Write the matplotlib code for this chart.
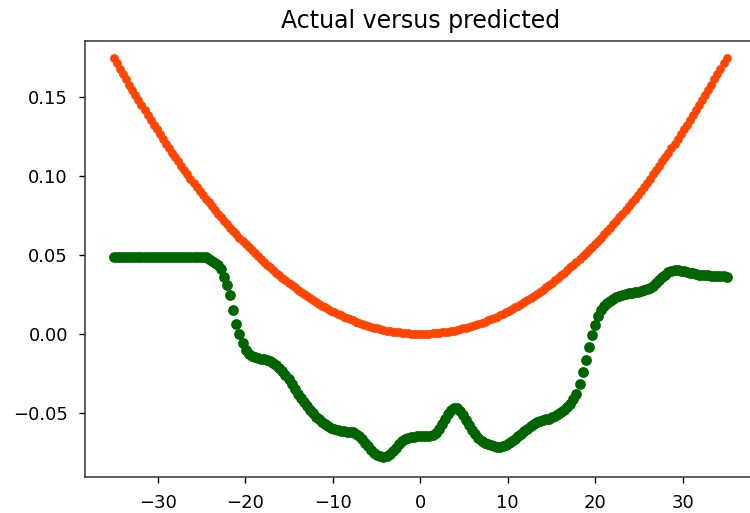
"""
Actual versus predicted scatter.
"""
#%% ------------------------------- ###
###        0. Data                  ###
### ------------------------------- ###

import matplotlib
matplotlib.use('Agg')
import matplotlib.pyplot as plt
import numpy as np

# sample grid, -35 .. 35 in steps of 0.35 (201 points)
x_vals = np.linspace(-35, 35, 201)

# orange-red series (10 values per row)
actual = [
    0.1752, 0.1717, 0.1682, 0.1648, 0.1614, 0.1581, 0.1548, 0.1515, 0.1483, 0.1451,
    0.1419, 0.1388, 0.1357, 0.1326, 0.1296, 0.1266, 0.1236, 0.1207, 0.1178, 0.1149,
    0.1121, 0.1093, 0.1066, 0.1039, 0.1012, 0.0985, 0.0959, 0.0934, 0.0908, 0.0883,
    0.0858, 0.0834, 0.0810, 0.0786, 0.0763, 0.0740, 0.0718, 0.0695, 0.0673, 0.0652,
    0.0631, 0.0610, 0.0589, 0.0569, 0.0549, 0.0530, 0.0511, 0.0492, 0.0474, 0.0456,
    0.0438, 0.0421, 0.0404, 0.0387, 0.0371, 0.0355, 0.0339, 0.0324, 0.0309, 0.0294,
    0.0280, 0.0266, 0.0253, 0.0240, 0.0227, 0.0215, 0.0203, 0.0191, 0.0179, 0.0168,
    0.0158, 0.0147, 0.0137, 0.0128, 0.0118, 0.0109, 0.0101, 0.0093, 0.0085, 0.0077,
    0.0070, 0.0063, 0.0057, 0.0051, 0.0045, 0.0039, 0.0034, 0.0030, 0.0025, 0.0021,
    0.0018, 0.0014, 0.0011, 0.0009, 0.0006, 0.0004, 0.0003, 0.0002, 0.0001, 0.0000,
    0.0000, 0.0000, 0.0001, 0.0002, 0.0003, 0.0004, 0.0006, 0.0009, 0.0011, 0.0014,
    0.0018, 0.0021, 0.0025, 0.0030, 0.0034, 0.0039, 0.0045, 0.0051, 0.0057, 0.0063,
    0.0070, 0.0077, 0.0085, 0.0093, 0.0101, 0.0109, 0.0118, 0.0128, 0.0137, 0.0147,
    0.0158, 0.0168, 0.0179, 0.0191, 0.0203, 0.0215, 0.0227, 0.0240, 0.0253, 0.0266,
    0.0280, 0.0294, 0.0309, 0.0324, 0.0339, 0.0355, 0.0371, 0.0387, 0.0404, 0.0421,
    0.0438, 0.0456, 0.0474, 0.0492, 0.0511, 0.0530, 0.0549, 0.0569, 0.0589, 0.0610,
    0.0631, 0.0652, 0.0673, 0.0695, 0.0718, 0.0740, 0.0763, 0.0786, 0.0810, 0.0834,
    0.0858, 0.0883, 0.0908, 0.0934, 0.0959, 0.0985, 0.1012, 0.1039, 0.1066, 0.1093,
    0.1121, 0.1149, 0.1178, 0.1207, 0.1236, 0.1266, 0.1296, 0.1326, 0.1357, 0.1388,
    0.1419, 0.1451, 0.1483, 0.1515, 0.1548, 0.1581, 0.1614, 0.1648, 0.1682, 0.1717,
    0.1752,
]

# dark green series (10 values per row)
predicted = [
    0.049, 0.049, 0.049, 0.049, 0.049, 0.049, 0.049, 0.049, 0.049, 0.049,
    0.049, 0.049, 0.049, 0.049, 0.049, 0.049, 0.049, 0.049, 0.049, 0.049,
    0.049, 0.049, 0.049, 0.049, 0.049, 0.049, 0.049, 0.049, 0.049, 0.0488,
    0.0485, 0.0475, 0.0465, 0.0452, 0.0435, 0.041, 0.036, 0.031, 0.0245, 0.0150,
    0.0065, 0.000, -0.0055, -0.0100, -0.0125, -0.0140, -0.0148, -0.0154, -0.0158, -0.0162,
    -0.0167, -0.0175, -0.0185, -0.0197, -0.0215, -0.0235, -0.0258, -0.0285, -0.0316, -0.0348,
    -0.038, -0.041, -0.0435, -0.046, -0.0483, -0.0505, -0.0525, -0.0543, -0.0558, -0.0572,
    -0.0585, -0.0596, -0.0604, -0.061, -0.0614, -0.0617, -0.062, -0.062, -0.0625, -0.0635,
    -0.065, -0.0668, -0.069, -0.0713, -0.0735, -0.0755, -0.0768, -0.0777, -0.0779, -0.0775,
    -0.076, -0.0743, -0.0722, -0.0698, -0.068, -0.0667, -0.066, -0.0655, -0.0652, -0.065,
    -0.065, -0.065, -0.0648, -0.0645, -0.0641, -0.063, -0.0605, -0.0572, -0.0538, -0.0508,
    -0.0483, -0.047, -0.0468, -0.0488, -0.0515, -0.0545, -0.0578, -0.061, -0.0638, -0.066,
    -0.0678, -0.069, -0.0700, -0.0708, -0.0713, -0.0716, -0.0715, -0.0711, -0.0703, -0.0693,
    -0.068, -0.0666, -0.0651, -0.0635, -0.0619, -0.0602, -0.0585, -0.0571, -0.0558, -0.055,
    -0.0545, -0.0541, -0.0537, -0.053, -0.0519, -0.0507, -0.0496, -0.0482, -0.0465, -0.0445,
    -0.0415, -0.038, -0.032, -0.0245, -0.0165, -0.0085, -0.001, 0.0055, 0.011, 0.015,
    0.0178, 0.0196, 0.0209, 0.022, 0.0231, 0.0240, 0.0248, 0.0254, 0.0258, 0.0261,
    0.0265, 0.0267, 0.027, 0.0275, 0.0283, 0.0292, 0.0305, 0.0322, 0.034, 0.0358,
    0.0375, 0.0389, 0.0398, 0.0402, 0.0403, 0.0401, 0.0397, 0.0392, 0.0387, 0.0383,
    0.0379, 0.0376, 0.0373, 0.0371, 0.037, 0.0369, 0.0368, 0.0367, 0.0366, 0.0365,
    0.0363,
]

title = 'Actual versus predicted'

#%% ------------------------------- ###
###        1. Plot                  ###
### ------------------------------- ###

plt.rcParams['font.family'] = ['DejaVu Sans']

fig = plt.figure(figsize=(7.5, 5.13), dpi=100)
# axes run past the right edge, the reference picture is cropped there
ax = fig.add_axes([85/750, 36.3/513, 670.5/750, 436/513])

ax.scatter(x_vals, actual, s=40, color='orangered', linewidths=0)
ax.scatter(x_vals, predicted, s=60, color='darkgreen', linewidths=0)

ax.set_xlim(-38.3, 38.3)
ax.set_ylim(-0.0906, 0.1859)

ax.set_title(title, fontsize=17, pad=9)
ax.tick_params(labelsize=13, length=4.3, width=1.0, pad=8)
for sp in ax.spines.values():
    sp.set_linewidth(1.1)
    sp.set_color('#333333')

fig.savefig('out.png', dpi=100)
